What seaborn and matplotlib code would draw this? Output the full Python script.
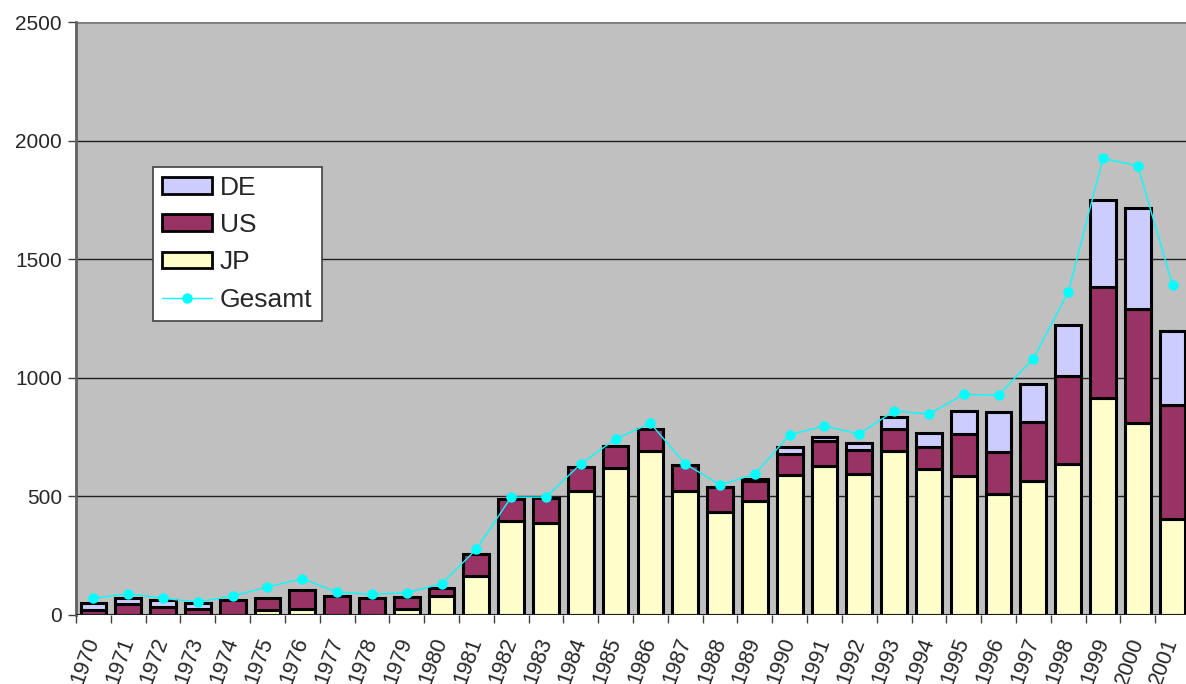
import numpy as np
import matplotlib
matplotlib.use("Agg")
import matplotlib.pyplot as plt
import seaborn as sns
from matplotlib.patches import Patch
from matplotlib.lines import Line2D

# Daten
years = [str(y) for y in range(1970, 2002)]
jp = [0, 0, 0, 0, 0, 20, 27, 0, 0, 25, 80, 166, 398, 388, 523, 620, 692, 523, 436, 482,
      589, 628, 593, 693, 614, 587, 509, 565, 637, 916, 808, 403]
us = [22, 48, 32, 25, 62, 52, 80, 80, 73, 52, 34, 91, 91, 104, 102, 94, 94, 108, 102, 85,
      88, 106, 103, 93, 96, 175, 177, 247, 371, 466, 482, 482]
de = [27, 22, 30, 24, 0, 0, 0, 0, 0, 0, 0, 0, 0, 0, 0, 0, 0, 0, 0, 5,
      30, 15, 28, 47, 57, 99, 170, 163, 215, 366, 424, 311]
gesamt = [70, 90, 70, 55, 80, 118, 153, 96, 87, 94, 131, 277, 497, 497, 637, 742, 808, 637, 549, 593,
          760, 797, 763, 860, 847, 930, 927, 1081, 1360, 1925, 1893, 1390]

c_jp, c_us, c_de, c_line = "#FFFFCC", "#993366", "#CCCCFF", "#00FFFF"

sns.set_style("white")
plt.rcParams['font.family'] = ['Liberation Sans', 'DejaVu Sans']

fig = plt.figure(figsize=(11.86, 6.84), dpi=100)
ax = fig.add_axes([76 / 1186, 69 / 684, 1114 / 1186, 593 / 684])
ax.set_facecolor("#C0C0C0")

jp_a, us_a, de_a = np.array(jp), np.array(us), np.array(de)
bar_kw = dict(width=0.74, edgecolor="black", linewidth=2.2, saturation=1, ax=ax, zorder=3)
sns.barplot(x=years, y=jp, color=c_jp, **bar_kw)
sns.barplot(x=years, y=us, bottom=jp_a, color=c_us, **bar_kw)
sns.barplot(x=years, y=de, bottom=jp_a + us_a, color=c_de, **bar_kw)
# Balken mit Wert 0 unsichtbar machen
for p in ax.patches:
    if p.get_height() == 0:
        p.set_visible(False)

sns.lineplot(x=np.arange(len(years)), y=gesamt, color=c_line, linewidth=1,
             marker="o", markersize=7.5, markeredgewidth=0, ax=ax, zorder=4)

ax.set_xlim(-0.5, 31.5)
ax.set_ylim(0, 2500)
ax.set_yticks(range(0, 2501, 500))
ax.yaxis.grid(True, color="#202020", linewidth=1)
ax.set_axisbelow(True)
ax.set_xlabel("")
ax.set_ylabel("")

# Achsen
for s in ["top", "right", "bottom"]:
    ax.spines[s].set_visible(False)
ax.spines["left"].set_color("#606060")
ax.spines["left"].set_linewidth(2)
ax.axhline(2500, color="#808080", linewidth=2, zorder=1)
ax.axhline(0, color="#202020", linewidth=1.5, zorder=5)

ax.tick_params(axis="y", direction="out", length=6, width=1, color="#404040",
               labelsize=15, pad=4, left=True)
ax.set_xticks(np.arange(len(years)))
ax.set_xticks(np.arange(-0.5, 32, 1), minor=True)
ax.tick_params(axis="x", which="major", length=0, pad=17)
ax.tick_params(axis="x", which="minor", direction="out", length=6, width=1,
               color="#404040", bottom=True)
ax.set_xticklabels(years, rotation=70, ha="right", va="center",
                   rotation_mode="anchor", fontsize=15.5)

handles = [Patch(facecolor=c_de, edgecolor="black", linewidth=2, label="DE"),
           Patch(facecolor=c_us, edgecolor="black", linewidth=2, label="US"),
           Patch(facecolor=c_jp, edgecolor="black", linewidth=2, label="JP"),
           Line2D([0], [0], color=c_line, linewidth=1, marker="o", markersize=7.5,
                  markeredgewidth=0, label="Gesamt")]
leg = ax.legend(handles=handles, loc="upper left", bbox_to_anchor=(0.0689, 0.756),
                borderaxespad=0, fontsize=19, frameon=True, fancybox=False,
                facecolor="white", edgecolor="#404040", framealpha=1,
                handlelength=1.9, handleheight=0.6, labelspacing=0.5,
                handletextpad=0.3, borderpad=0.35)
leg.get_frame().set_linewidth(1.2)
leg.set_zorder(10)

fig.savefig("out.png", dpi=100)
